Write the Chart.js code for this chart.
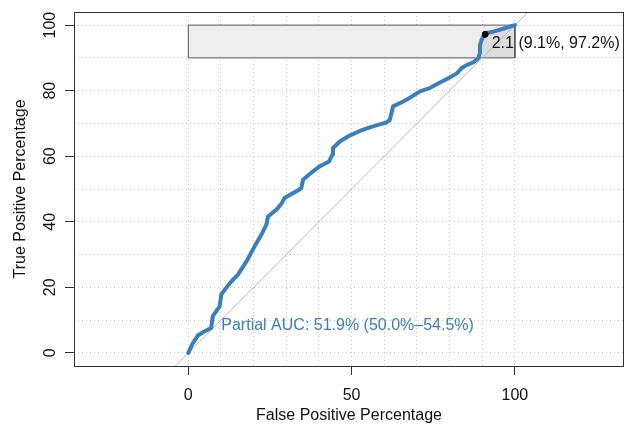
<!DOCTYPE html>
<html>
<head>
<meta charset="utf-8">
<script src="https://cdn.jsdelivr.net/npm/chart.js@4.4.1/dist/chart.umd.min.js"></script>
<style>
  html, body { margin: 0; padding: 0; background: #fff; }
</style>
</head>
<body>
<canvas id="roc" width="633" height="427"></canvas>
<script>
// ROC curve (percent)
const fpr = [0, 0.9, 1.4, 2.9, 5.0, 7.0, 7.5, 9.6, 10.1, 12.7, 15.2, 17.8, 20.3, 22.4, 23.9, 24.4,
  27.0, 28.5, 29.5, 33.1, 34.6, 35.1, 38.2, 40.2, 43.1, 44.1, 44.3, 46.4, 49.4, 52.5, 55.6, 58.6,
  60.5, 61.7, 62.7, 65.8, 67.3, 70.9, 73.9, 76.5, 79.6, 82.1, 83.7, 85.2, 87.2, 88.8, 89.3, 89.3,
  89.8, 90.3, 91.3, 93.3, 96.4, 100];
const tpr = [0, 2.0, 3.0, 5.3, 6.6, 7.6, 11.2, 14.2, 17.8, 21.3, 23.9, 27.9, 32.5, 36.1, 39.1, 41.6,
  43.7, 45.5, 47.3, 49.3, 50.3, 52.8, 55.4, 56.9, 58.4, 60.5, 62.5, 64.5, 66.3, 67.7, 68.8, 69.7,
  70.2, 71.1, 75.2, 76.7, 77.5, 79.8, 80.8, 82.2, 83.8, 85.2, 86.9, 87.8, 88.6, 89.9, 91.5, 93.8,
  95.5, 96.5, 97.6, 98.0, 98.9, 100];

const xTickLabels = [0, 50, 100];
const yTickLabels = [0, 20, 40, 60, 80, 100];
const gridValues = [0, 10, 20, 30, 40, 50, 60, 70, 80, 90, 100];

const partialRange = [90, 100];          // TPR band of the partial AUC
const bestPoint = [90.9, 97.2];          // threshold point (FPR, TPR)
const bestText = '2.1 (9.1%, 97.2%)';
const aucText = 'Partial AUC: 51.9% (50.0%\u201354.5%)';
const xTitle = 'False Positive Percentage';
const yTitle = 'True Positive Percentage';

const curve = fpr.map((x, i) => ({x: x, y: tpr[i]}));

// polygon between the curve and x = 100 inside the partial band
let poly = [];
for (let i = 1; i < curve.length; i++) {
  const a = curve[i - 1], b = curve[i];
  if (a.y < partialRange[0] && b.y >= partialRange[0]) {
    const t = (partialRange[0] - a.y) / (b.y - a.y);
    poly.push({x: a.x + t * (b.x - a.x), y: partialRange[0]});
  }
  if (b.y >= partialRange[0]) poly.push(b);
}
poly.push({x: 100, y: partialRange[0]});

const box = [{x: 0, y: partialRange[0]}, {x: 0, y: partialRange[1]},
             {x: 100, y: partialRange[1]}, {x: 100, y: partialRange[0]}, {x: 0, y: partialRange[0]}];

const FONT = '16px "Liberation Sans", Arial, sans-serif';

const decor = {
  id: 'decor',
  afterDraw(chart) {
    const c = chart.ctx, a = chart.chartArea;
    const xs = chart.scales.x, ys = chart.scales.y;
    c.save();
    // plot frame
    c.strokeStyle = '#333';
    c.lineWidth = 1;
    c.strokeRect(a.left + 0.5, a.top + 0.5, a.right - a.left - 1, a.bottom - a.top);

    c.font = FONT;
    c.fillStyle = '#111';
    // x tick labels
    c.textAlign = 'center';
    c.textBaseline = 'middle';
    xTickLabels.forEach(v => c.fillText(String(v), xs.getPixelForValue(v), 396));
    // x title
    c.fillText(xTitle, (a.left + a.right) / 2, 416);
    // y tick labels (rotated)
    yTickLabels.forEach(v => {
      c.save();
      c.translate(51, ys.getPixelForValue(v));
      c.rotate(-Math.PI / 2);
      c.fillText(String(v), 0, 0);
      c.restore();
    });
    // y title
    c.save();
    c.translate(21, (a.top + a.bottom) / 2);
    c.rotate(-Math.PI / 2);
    c.fillText(yTitle, 0, 0);
    c.restore();

    // threshold label
    c.textAlign = 'left';
    c.fillText(bestText, xs.getPixelForValue(92.9), ys.getPixelForValue(94.5));
    // partial AUC label
    c.fillStyle = '#3a7fbd';
    c.fillText(aucText, xs.getPixelForValue(10.1), ys.getPixelForValue(8.3));
    c.restore();
  }
};

const gridScale = (lo, hi, labels, fitProp, fitVal) => ({
  type: 'linear',
  min: lo,
  max: hi,
  afterBuildTicks: s => { s.ticks = gridValues.map(v => ({value: v})); },
  afterFit: s => { s[fitProp] = fitVal; },
  ticks: { display: false },
  grid: {
    color: '#c8c8c8',
    lineWidth: 1,
    drawTicks: true,
    tickLength: 9,
    tickWidth: 1,
    tickColor: ctx => (ctx.tick && labels.includes(ctx.tick.value)) ? '#333' : 'rgba(0,0,0,0)'
  },
  border: { display: false, dash: [1, 3] }
});

new Chart(document.getElementById('roc').getContext('2d'), {
  type: 'scatter',
  data: {
    datasets: [
      {
        // threshold point
        data: [{x: bestPoint[0], y: bestPoint[1]}],
        pointRadius: 3,
        pointBackgroundColor: '#000',
        pointBorderColor: '#000',
        order: 0
      },
      {
        data: curve,
        showLine: true,
        borderColor: '#3a7fbd',
        borderWidth: 4,
        borderJoinStyle: 'round',
        borderCapStyle: 'round',
        pointRadius: 0,
        order: 1
      },
      {
        // identity line
        data: [{x: -4, y: -4}, {x: 104, y: 104}],
        showLine: true,
        borderColor: '#b8b8b8',
        borderWidth: 1,
        pointRadius: 0,
        order: 2
      },
      {
        // outline of max partial AUC box
        data: box,
        showLine: true,
        borderColor: '#555',
        borderWidth: 1,
        pointRadius: 0,
        order: 3
      },
      {
        data: poly,
        showLine: true,
        fill: 'shape',
        backgroundColor: '#dcdcdc',
        borderWidth: 0,
        pointRadius: 0,
        order: 4
      },
      {
        data: box,
        showLine: true,
        fill: 'shape',
        backgroundColor: '#eeeeee',
        borderWidth: 0,
        pointRadius: 0,
        order: 5
      }
    ]
  },
  options: {
    responsive: false,
    animation: false,
    devicePixelRatio: 1,
    layout: { padding: { top: 12, right: 9, left: 0, bottom: 0 } },
    plugins: { legend: { display: false }, tooltip: { enabled: false } },
    scales: {
      x: gridScale(-35, 133.4, xTickLabels, 'height', 61),
      y: gridScale(-4, 104, yTickLabels, 'width', 74)
    }
  },
  plugins: [decor]
});
</script>
</body>
</html>
